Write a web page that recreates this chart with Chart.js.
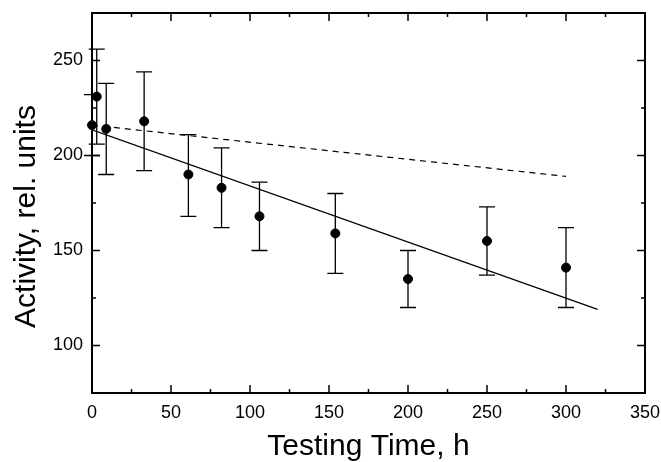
<!DOCTYPE html>
<html lang="en">
<head>
    <meta charset="UTF-8">
    <title>Activity vs Testing Time</title>
    <script src="https://cdn.jsdelivr.net/npm/chart.js"></script>
    <style>
        body {
            margin: 0;
            padding: 0;
            background-color: #fff;
        }

        .chart-container {
            width: 661px;
            height: 462px;
            position: relative;
        }
    </style>
</head>
<body>

<div class="chart-container">
    <canvas id="activityCanvas" width="661" height="462"></canvas>
</div>

<script>
    // measured points
    const timeH = [0, 3, 9, 33, 61, 82, 106, 154, 200, 250, 300];
    const activity = [216, 231, 214, 218, 190, 183, 168, 159, 135, 155, 141];
    const errLow = [200, 206, 190, 192, 168, 162, 150, 138, 120, 137, 120];
    const errHigh = [232, 256, 238, 244, 211, 204, 186, 180, 150, 173, 162];

    // linear fit (solid) and the reference trend (dashed)
    const fitX = [0, 320];
    const fitY = [213.5, 119];
    const dashX = [0, 300];
    const dashY = [216, 189];

    const xTicks = [0, 50, 100, 150, 200, 250, 300, 350];
    const yTicks = [100, 150, 200, 250];

    const FONT = 'Arial, "Liberation Sans", sans-serif';

    // frame, inward ticks, error bars and the y title
    const framePlugin = {
        id: 'frame',
        afterDatasetsDraw(chart) {
            const ctx = chart.ctx;
            const {left, right, top, bottom} = chart.chartArea;
            const xs = chart.scales.x;
            const ys = chart.scales.y;

            ctx.save();
            ctx.strokeStyle = '#000';

            // error bars
            ctx.lineWidth = 1.3;
            for (let i = 0; i < timeH.length; i++) {
                const px = xs.getPixelForValue(timeH[i]);
                const lo = ys.getPixelForValue(errLow[i]);
                const hi = ys.getPixelForValue(errHigh[i]);
                ctx.beginPath();
                ctx.moveTo(px, lo);
                ctx.lineTo(px, hi);
                ctx.moveTo(px - 8, lo);
                ctx.lineTo(px + 8, lo);
                ctx.moveTo(px - 8, hi);
                ctx.lineTo(px + 8, hi);
                ctx.stroke();
            }

            // box
            ctx.lineWidth = 2;
            ctx.strokeRect(left, top, right - left, bottom - top);

            // ticks on x (bottom and top)
            ctx.lineWidth = 1.5;
            ctx.beginPath();
            for (let v = 0; v <= 350; v += 25) {
                const px = xs.getPixelForValue(v);
                const len = v % 50 === 0 ? 8 : 4;
                ctx.moveTo(px, bottom);
                ctx.lineTo(px, bottom - len);
                ctx.moveTo(px, top);
                ctx.lineTo(px, top + len);
            }
            // ticks on y (left and right)
            for (let v = 100; v <= 250; v += 25) {
                const py = ys.getPixelForValue(v);
                const len = v % 50 === 0 ? 8 : 4;
                ctx.moveTo(left, py);
                ctx.lineTo(left + len, py);
                ctx.moveTo(right, py);
                ctx.lineTo(right - len, py);
            }
            ctx.stroke();

            // y title
            ctx.fillStyle = '#000';
            ctx.font = '30px ' + FONT;
            ctx.textAlign = 'center';
            ctx.textBaseline = 'alphabetic';
            ctx.translate(35, 216.5);
            ctx.rotate(-Math.PI / 2);
            ctx.fillText('Activity, rel. units', 0, 0);
            ctx.restore();
        }
    };

    const ctx = document.getElementById('activityCanvas').getContext('2d');
    new Chart(ctx, {
        type: 'scatter',
        data: {
            datasets: [
                {
                    type: 'line',
                    data: fitX.map((x, i) => ({x: x, y: fitY[i]})),
                    borderColor: '#000',
                    borderWidth: 1.2,
                    pointRadius: 0,
                    fill: false
                },
                {
                    type: 'line',
                    data: dashX.map((x, i) => ({x: x, y: dashY[i]})),
                    borderColor: '#000',
                    borderWidth: 1.2,
                    borderDash: [6, 5],
                    pointRadius: 0,
                    fill: false
                },
                {
                    data: timeH.map((x, i) => ({x: x, y: activity[i]})),
                    backgroundColor: '#000',
                    borderColor: '#000',
                    pointRadius: 4.5,
                    pointHoverRadius: 4.5,
                    clip: false
                }
            ]
        },
        options: {
            responsive: false,
            animation: false,
            events: [],
            layout: {
                padding: {top: 13, right: 16, left: 0, bottom: 0}
            },
            plugins: {
                legend: {display: false},
                tooltip: {enabled: false}
            },
            scales: {
                x: {
                    type: 'linear',
                    min: 0,
                    max: 350,
                    afterBuildTicks: s => { s.ticks = xTicks.map(v => ({value: v})); },
                    afterFit: s => { s.height = 69; s.paddingLeft = 0; s.paddingRight = 0; },
                    grid: {display: false},
                    border: {display: false},
                    ticks: {
                        color: '#000',
                        font: {family: FONT, size: 18},
                        padding: 1,
                        maxRotation: 0,
                        autoSkip: false
                    },
                    title: {
                        display: true,
                        text: 'Testing Time, h',
                        color: '#000',
                        font: {family: FONT, size: 30},
                        padding: {top: 0, bottom: -3}
                    }
                },
                y: {
                    type: 'linear',
                    min: 75,
                    max: 275,
                    afterBuildTicks: s => { s.ticks = yTicks.map(v => ({value: v})); },
                    afterFit: s => { s.width = 92; s.paddingTop = 0; s.paddingBottom = 0; },
                    grid: {display: false},
                    border: {display: false},
                    ticks: {
                        color: '#000',
                        font: {family: FONT, size: 18},
                        padding: 1,
                        autoSkip: false
                    }
                }
            }
        },
        plugins: [framePlugin]
    });
</script>
</body>
</html>
